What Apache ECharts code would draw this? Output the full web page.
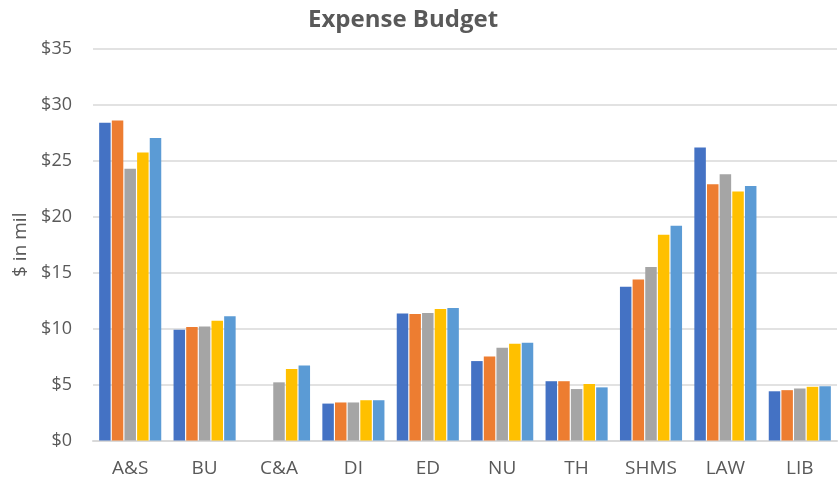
<!DOCTYPE html>
<html>
<head>
<meta charset="utf-8">
<script src="https://cdn.jsdelivr.net/npm/echarts@6/dist/echarts.min.js"></script>
<style>html,body{margin:0;padding:0;background:#fff}#c{width:840px;height:491px}</style>
</head>
<body>
<div id="c"></div>
<script>
const categories = ["A&S","BU","C&A","DI","ED","NU","TH","SHMS","LAW","LIB"];
const seriesNames = ["Series 1","Series 2","Series 3","Series 4","Series 5"];
const s1 = [28.4, 9.9, null, 3.3, 11.35, 7.1, 5.3, 13.75, 26.2, 4.4];
const s2 = [28.6, 10.15, null, 3.4, 11.3, 7.5, 5.3, 14.4, 22.9, 4.5];
const s3 = [24.3, 10.2, 5.2, 3.4, 11.4, 8.3, 4.6, 15.5, 23.8, 4.65];
const s4 = [25.75, 10.7, 6.4, 3.6, 11.75, 8.65, 5.05, 18.4, 22.25, 4.8];
const s5 = [27.05, 11.1, 6.7, 3.6, 11.85, 8.75, 4.75, 19.2, 22.75, 4.85];
const yTicks = [0,5,10,15,20,25,30,35];
const colors = ["#4472C4","#ED7D31","#A5A5A5","#FFC000","#5B9BD5"];
const font = "Open Sans";
const data = [s1,s2,s3,s4,s5];
const chart = echarts.init(document.getElementById('c'));
chart.setOption({
  animation:false,
  title:{text:"Expense Budget",left:303,top:3,textStyle:{fontFamily:font,fontSize:24,fontWeight:'bold',color:'#595959'}},
  grid:{left:93,right:3,top:49,bottom:50.5,containLabel:false},
  xAxis:{type:'category',data:categories,
    axisLine:{lineStyle:{color:'#D9D9D9',width:2}},axisTick:{show:false},
    axisLabel:{fontFamily:font,fontSize:19,color:'#595959',margin:19}},
  yAxis:{type:'value',min:yTicks[0],max:yTicks[yTicks.length-1],interval:5,
    name:"$ in mil",nameLocation:'middle',nameGap:63,nameRotate:90,
    nameTextStyle:{fontFamily:font,fontSize:19,color:'#595959'},
    axisLine:{show:false},axisTick:{show:false},
    splitLine:{lineStyle:{color:'#D9D9D9',width:1.5}},
    axisLabel:{fontFamily:font,fontSize:18,color:'#595959',margin:21,formatter:v=>'$'+v}},
  series:data.map((d,i)=>({name:seriesNames[i],type:'bar',data:d,barWidth:11.5,barGap:'10%',
    itemStyle:{color:colors[i]}}))
});
</script>
</body>
</html>
